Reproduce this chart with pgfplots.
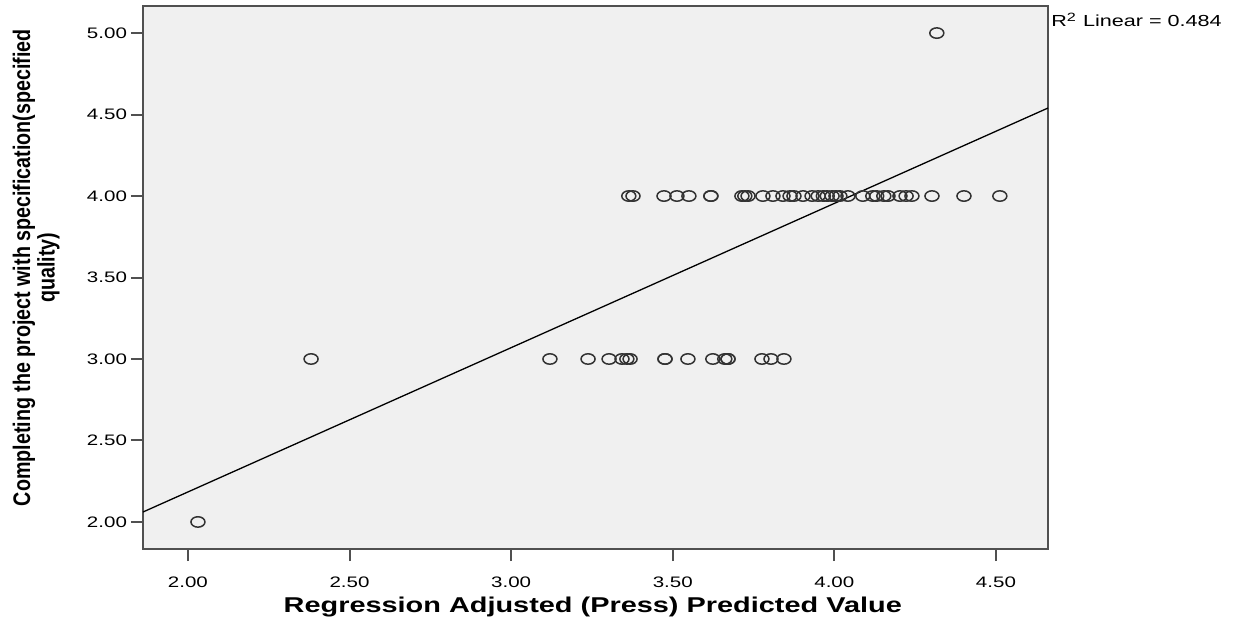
\documentclass[border=0pt]{standalone}
\usepackage{fontspec}
\setmainfont{Liberation Sans}[FakeStretch=1.35]
\newfontfamily\ylabfont{Liberation Sans}[FakeStretch=0.82]
\usepackage{pgfplots}
\pgfplotsset{compat=1.18}
\definecolor{plotbg}{HTML}{F0F0F0}
\definecolor{axgray}{HTML}{505050}

\begin{document}
\begin{tikzpicture}
\useasboundingbox (0,0) rectangle (616.5pt,308.5pt);
\begin{axis}[
  at={(71.5pt,34pt)}, anchor=south west,
  scale only axis, width=452.5pt, height=271.5pt,
  xmin=1.861, xmax=4.661, ymin=1.834, ymax=5.166,
  axis background/.style={fill=plotbg},
  axis line style={draw=axgray, line width=1.2pt},
  xtick={2,2.5,3,3.5,4,4.5},
  ytick={2,2.5,3,3.5,4,4.5,5},
  xtick pos=bottom, ytick pos=left, tick align=outside,
  major tick length=6pt,
  major tick style={draw=axgray, line width=1pt},
  tick label style={font=\fontsize{7.6}{8.5}\selectfont,
    /pgf/number format/fixed, /pgf/number format/fixed zerofill,
    /pgf/number format/precision=2, /pgf/number format/assume math mode=true},
  x tick label style={yshift=-4.5pt},
  y tick label style={xshift=1.5pt},
  xlabel={\bfseries Regression Adjusted (Press) Predicted Value},
  xlabel style={font=\fontsize{10.7}{12}\selectfont, at={(axis description cs:0.497,0)}, anchor=center, yshift=-29pt},
  ylabel={Completing the project with specification(specified\\quality)},
  ylabel style={font=\ylabfont\bfseries\fontsize{12}{11}\selectfont, align=center,
    at={(axis description cs:-0.118,0.518)}, anchor=center},
  clip=false,
]
% regression line
\addplot[black, line width=0.65pt] coordinates {(1.861,2.061) (4.661,4.540)};
% observed points
\addplot[only marks, mark=o, mark size=2.6pt, black!80, mark options={xscale=1.35, line width=0.75pt}] coordinates {
(2.031,2.00) (2.381,3.00) (4.317,5.00)
(3.120,3.00) (3.238,3.00) (3.303,3.00) (3.343,3.00) (3.358,3.00) (3.368,3.00)
(3.476,3.00) (3.476,3.00) (3.547,3.00) (3.624,3.00) (3.661,3.00) (3.671,3.00) (3.671,3.00)
(3.776,3.00) (3.804,3.00) (3.844,3.00)
(3.364,4.00) (3.377,4.00) (3.473,4.00) (3.513,4.00) (3.550,4.00) (3.618,4.00) (3.618,4.00)
(3.714,4.00) (3.723,4.00) (3.733,4.00) (3.779,4.00) (3.810,4.00) (3.841,4.00) (3.863,4.00)
(3.875,4.00) (3.903,4.00) (3.931,4.00) (3.950,4.00) (3.966,4.00) (3.978,4.00) (3.993,4.00)
(4.005,4.00) (4.017,4.00) (4.042,4.00) (4.088,4.00) (4.119,4.00) (4.131,4.00) (4.153,4.00)
(4.166,4.00) (4.203,4.00) (4.222,4.00) (4.240,4.00) (4.302,4.00) (4.401,4.00) (4.512,4.00)
};
\node[anchor=west, inner sep=0pt, font=\fontsize{8}{9}\selectfont] at (rel axis cs:1,1) [xshift=1.5pt, yshift=-7pt] {R\textsuperscript{2} Linear = 0.484};
\end{axis}
\end{tikzpicture}
\end{document}
